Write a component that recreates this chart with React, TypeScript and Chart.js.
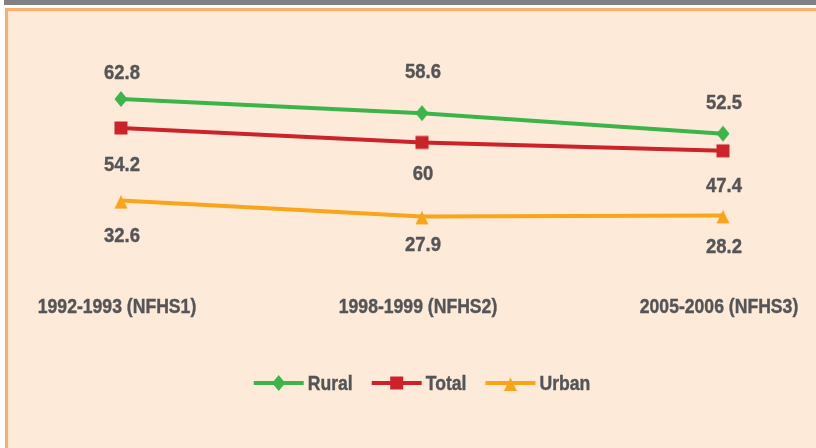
import React, { useEffect, useRef } from "react";
import { Chart, registerables } from "chart.js";

Chart.register(...registerables);

const categories = ["1992-1993 (NFHS1)", "1998-1999 (NFHS2)", "2005-2006 (NFHS3)"];
const seriesNames = ["Rural", "Total", "Urban"];
const ruralValues = [62.8, 58.6, 52.5];
const totalValues = [54.2, 49.9, 47.4];
const urbanValues = [32.6, 27.9, 28.2];
const ruralLabels = ["62.8", "58.6", "52.5"];
const totalLabels = ["54.2", "60", "47.4"];
const urbanLabels = ["32.6", "27.9", "28.2"];

const FONT = "'Liberation Sans', Arial, sans-serif";
const SX = 0.88;
const TEXT = "#545557";
const GREEN = "#3BB44A";
const RED = "#CC2229";
const ORANGE = "#F9A51A";

function narrowText(ctx: CanvasRenderingContext2D, text: string, x: number, y: number, align: CanvasTextAlign) {
  ctx.save();
  ctx.translate(x, y);
  ctx.scale(SX, 1);
  ctx.textAlign = align;
  ctx.fillText(text, 0, 0);
  ctx.lineWidth = 0.4;
  ctx.strokeStyle = ctx.fillStyle as string;
  ctx.strokeText(text, 0, 0);
  ctx.restore();
}

function drawMarker(ctx: CanvasRenderingContext2D, style: string, x: number, y: number, color: string) {
  ctx.save();
  ctx.fillStyle = color;
  ctx.beginPath();
  if (style === "diamond") {
    ctx.moveTo(x, y - 8);
    ctx.lineTo(x + 6.5, y);
    ctx.lineTo(x, y + 8);
    ctx.lineTo(x - 6.5, y);
  } else if (style === "square") {
    ctx.rect(x - 6.5, y - 6.5, 13, 13);
  } else {
    ctx.moveTo(x, y - 5.5);
    ctx.lineTo(x + 6.5, y + 8);
    ctx.lineTo(x - 6.5, y + 8);
  }
  ctx.closePath();
  ctx.fill();
  ctx.restore();
}

function markerCanvas(style: string, color: string): HTMLCanvasElement {
  const c = document.createElement("canvas");
  c.width = 18;
  c.height = 18;
  const ctx = c.getContext("2d")!;
  drawMarker(ctx, style, 9, 9, color);
  return c;
}

const categoryLabelPlugin = {
  id: "categoryLabels",
  afterDraw(chart: any) {
    const ctx = chart.ctx;
    const xs = chart.scales.x;
    ctx.save();
    ctx.font = `bold 20px ${FONT}`;
    ctx.fillStyle = TEXT;
    ctx.textBaseline = "middle";
    xs.ticks.forEach((_t: any, i: number) => {
      narrowText(ctx, String(chart.data.labels[i]), xs.getPixelForTick(i) - 4, 307, "center");
    });
    ctx.restore();
  },
};

const valueLabelPlugin = {
  id: "valueLabels",
  afterDatasetsDraw(chart: any) {
    const ctx = chart.ctx;
    ctx.save();
    ctx.font = `bold 21px ${FONT}`;
    ctx.fillStyle = TEXT;
    ctx.textBaseline = "middle";
    chart.data.datasets.forEach((ds: any, i: number) => {
      const meta = chart.getDatasetMeta(i);
      meta.data.forEach((pt: any, j: number) => {
        narrowText(ctx, ds.valueLabels[j], pt.x + 1, pt.y + ds.labelOffsets[j], "center");
      });
    });
    ctx.restore();
  },
};

const lineLegendPlugin = {
  id: "lineLegend",
  afterDraw(chart: any) {
    const ctx = chart.ctx;
    const area = chart.chartArea;
    ctx.save();
    ctx.font = `bold 20px ${FONT}`;
    ctx.textBaseline = "middle";
    const lineW = 50;
    const gapText = 4;
    const gapItem = 19;
    const items = chart.data.datasets.map((ds: any) => ({
      label: ds.label,
      color: ds.borderColor,
      marker: ds.legendMarker,
      w: lineW + gapText + ctx.measureText(ds.label).width * SX,
    }));
    const total = items.reduce((s: number, it: any) => s + it.w, 0) + gapItem * (items.length - 1);
    let x = (area.left + area.right) / 2 - total / 2;
    const y = 383;
    items.forEach((it: any) => {
      ctx.strokeStyle = it.color;
      ctx.lineWidth = 4;
      ctx.beginPath();
      ctx.moveTo(x, y);
      ctx.lineTo(x + lineW, y);
      ctx.stroke();
      drawMarker(ctx, it.marker, x + lineW / 2, y, it.color);
      ctx.fillStyle = TEXT;
      narrowText(ctx, it.label, x + lineW + gapText, y + 1, "left");
      x += it.w + gapItem;
    });
    ctx.restore();
  },
};

export default function App() {
  const ref = useRef<HTMLCanvasElement>(null);

  useEffect(() => {
    if (!ref.current) return;
    const chart = new Chart(ref.current, {
      type: "line",
      data: {
        labels: categories,
        datasets: [
          {
            label: seriesNames[0],
            data: ruralValues,
            borderColor: GREEN,
            backgroundColor: GREEN,
            borderWidth: 4,
            pointStyle: markerCanvas("diamond", GREEN),
            pointRadius: 8,
            pointHoverRadius: 8,
            pointBorderWidth: 0,
            valueLabels: ruralLabels,
            labelOffsets: [-26, -41, -30],
            legendMarker: "diamond",
          } as any,
          {
            label: seriesNames[1],
            data: totalValues,
            borderColor: RED,
            backgroundColor: RED,
            borderWidth: 4,
            pointStyle: markerCanvas("square", RED),
            pointRadius: 8,
            pointHoverRadius: 8,
            pointBorderWidth: 0,
            valueLabels: totalLabels,
            labelOffsets: [37, 32, 35],
            legendMarker: "square",
          } as any,
          {
            label: seriesNames[2],
            data: urbanValues,
            borderColor: ORANGE,
            backgroundColor: ORANGE,
            borderWidth: 4,
            pointStyle: markerCanvas("triangle", ORANGE),
            pointRadius: 8,
            pointHoverRadius: 8,
            pointBorderWidth: 0,
            valueLabels: urbanLabels,
            labelOffsets: [36, 29, 32],
            legendMarker: "triangle",
          } as any,
        ],
      },
      options: {
        responsive: false,
        animation: false,
        devicePixelRatio: 1,
        layout: { padding: { left: 121, right: 93, top: 58, bottom: 115 } },
        plugins: {
          legend: { display: false },
          tooltip: { enabled: false },
        },
        scales: {
          x: {
            offset: false,
            grid: { display: false, drawTicks: false },
            border: { display: false },
            ticks: { display: false },
            afterFit: (scale: any) => {
              scale.height = 90;
              scale.paddingLeft = 0;
              scale.paddingRight = 0;
            },
          },
          y: {
            display: false,
            min: 20,
            max: 75,
          },
        },
      },
      plugins: [valueLabelPlugin, categoryLabelPlugin, lineLegendPlugin],
    });
    return () => chart.destroy();
  }, []);

  return (
    <div style={{ position: "fixed", left: 0, top: 0, width: 816, height: 448, background: "#ffffff", overflow: "hidden" }}>
      <div style={{ position: "absolute", left: 4, top: 0, right: 0, height: 5, background: "#808184" }} />
      <div
        style={{
          position: "absolute",
          left: 5,
          top: 8,
          width: 840,
          height: 470,
          background: "#FEEAD8",
          border: "3px solid #FDAE6B",
          boxSizing: "border-box",
        }}
      />
      <canvas ref={ref} width={816} height={448} style={{ position: "absolute", left: 0, top: 0, width: 816, height: 448 }} />
    </div>
  );
}
